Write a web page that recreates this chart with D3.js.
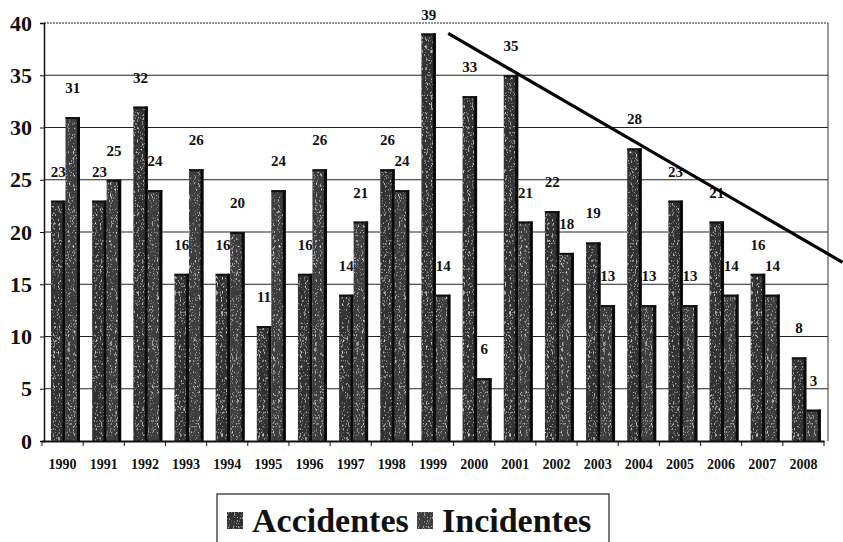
<!DOCTYPE html>
<html>
<head>
<meta charset="utf-8">
<script src="https://d3js.org/d3.v7.min.js"></script>
<style>
  body { margin: 0; background: #fff; }
  svg text { font-family: "Liberation Serif", "Times New Roman", Times, "DejaVu Serif", serif; font-weight: bold; fill: #111; }
</style>
</head>
<body>
<svg id="chart" width="843" height="542"></svg>
<script>
// data
const years = [1990,1991,1992,1993,1994,1995,1996,1997,1998,1999,2000,2001,2002,2003,2004,2005,2006,2007,2008];
const accidentes = [23,23,32,16,16,11,16,14,26,39,33,35,22,19,28,23,21,16,8];
const incidentes = [31,25,24,26,20,24,26,21,24,14,6,21,18,13,13,13,14,14,3];
const yTicks = [0,5,10,15,20,25,30,35,40];
const seriesNames = ["Accidentes","Incidentes"];
// hand drawn trend line (year position, value)
const trend = [[1999.87, 39], [2009.45, 17.1]];

const svg = d3.select("#chart");
const plotL = 44, plotR = 828, plotT = 23, plotB = 441;

const x = d3.scaleBand().domain(years).range([42, 824]);
const xPos = d3.scaleLinear().domain([1990, 2009]).range([42, 824]);
const sub = d3.scaleBand().domain(seriesNames).range([9, 38]);
const y = d3.scaleLinear().domain([0, 40]).range([plotB, plotT]);

// speckled texture like the photocopy
const defs = svg.append("defs");
const f = defs.append("filter").attr("id", "grain").attr("x", 0).attr("y", 0).attr("width", 1).attr("height", 1);
f.append("feTurbulence").attr("type", "turbulence").attr("baseFrequency", "1.2 0.35").attr("numOctaves", 1).attr("seed", 3).attr("result", "n");
f.append("feColorMatrix").attr("in", "n").attr("type", "matrix")
  .attr("values", "0 0 0 0 0.75  0 0 0 0 0.75  0 0 0 0 0.75  2.2 0 0 0 -0.55").attr("result", "spots");
f.append("feComposite").attr("in", "spots").attr("in2", "SourceGraphic").attr("operator", "in").attr("result", "sp");
f.append("feMerge").call(m => { m.append("feMergeNode").attr("in", "SourceGraphic"); m.append("feMergeNode").attr("in", "sp"); });

// gridlines
svg.append("g")
  .selectAll("line").data(yTicks.filter(d => d > 0)).join("line")
  .attr("x1", plotL).attr("x2", plotR)
  .attr("y1", d => y(d)).attr("y2", d => y(d))
  .attr("stroke", "#222").attr("stroke-width", d => d == 40 ? 1 : 1.2)
  .attr("stroke-dasharray", d => d == 40 ? "2,1" : null);

// right border
svg.append("line").attr("x1", plotR).attr("x2", plotR).attr("y1", plotT).attr("y2", plotB)
  .attr("stroke", "#333");

// bars
const groups = svg.append("g").selectAll("g").data(years).join("g")
  .attr("transform", d => `translate(${x(d)},0)`);

const colors = { Accidentes: "#333", Incidentes: "#3d3d3d" };
const pairs = (d, i) => [
  { name: "Accidentes", v: accidentes[i] },
  { name: "Incidentes", v: incidentes[i] }
];

const bar = groups.selectAll("g.bar").data(pairs).join("g").attr("class", "bar");
bar.append("rect")
  .attr("x", d => sub(d.name))
  .attr("width", sub.bandwidth())
  .attr("y", d => y(d.v))
  .attr("height", d => y(0) - y(d.v))
  .attr("fill", d => colors[d.name])
  .attr("filter", "url(#grain)");
bar.append("rect")
  .attr("x", d => sub(d.name) + sub.bandwidth() - 3)
  .attr("width", 3)
  .attr("y", d => y(d.v))
  .attr("height", d => y(0) - y(d.v))
  .attr("fill", "#0a0a0a");
bar.append("rect")
  .attr("x", d => sub(d.name))
  .attr("width", sub.bandwidth())
  .attr("y", d => y(d.v))
  .attr("height", 2)
  .attr("fill", "#111");

// value labels
bar.append("text")
  .attr("x", d => sub(d.name) + sub.bandwidth() / 2)
  .attr("y", d => Math.max(y(d.v) - 24, 20))
  .attr("text-anchor", "middle")
  .attr("font-size", 15)
  .text(d => d.v);

// y axis
const yAxis = svg.append("g").attr("transform", `translate(${plotL},0)`)
  .call(d3.axisLeft(y).tickValues(yTicks).tickSize(4).tickPadding(8));
yAxis.select(".domain").attr("stroke", "#111").attr("stroke-width", 1.5);
yAxis.selectAll("line").attr("stroke", "#111");
yAxis.selectAll("text").attr("font-size", 22);

// x axis
const xAxis = svg.append("g").attr("transform", `translate(0,${plotB})`)
  .call(d3.axisBottom(x).tickSize(0).tickPadding(18));
xAxis.select(".domain").attr("stroke", "#111").attr("stroke-width", 2);
xAxis.selectAll("text").attr("font-size", 14);
svg.append("g").selectAll("line").data(years.concat([2009])).join("line")
  .attr("x1", d => xPos(d)).attr("x2", d => xPos(d))
  .attr("y1", plotB).attr("y2", plotB + 5)
  .attr("stroke", "#111");

// trend line
svg.append("path")
  .datum(trend)
  .attr("d", d3.line().x(d => xPos(d[0])).y(d => y(d[1])))
  .attr("stroke", "#000").attr("stroke-width", 3.2).attr("fill", "none");

// legend
const lg = svg.append("g");
lg.append("rect").attr("x", 217).attr("y", 494).attr("width", 392).attr("height", 60)
  .attr("fill", "none").attr("stroke", "#222").attr("stroke-width", 1.2);
const item = lg.selectAll("g").data(seriesNames).join("g")
  .attr("transform", (d, i) => `translate(${i ? 417 : 227},0)`);
item.append("rect").attr("x", 0).attr("y", 512).attr("width", 16).attr("height", 17)
  .attr("fill", d => colors[d]).attr("filter", "url(#grain)");
item.append("text").attr("x", 25).attr("y", 532).attr("font-size", 34).text(d => d);
</script>
</body>
</html>
